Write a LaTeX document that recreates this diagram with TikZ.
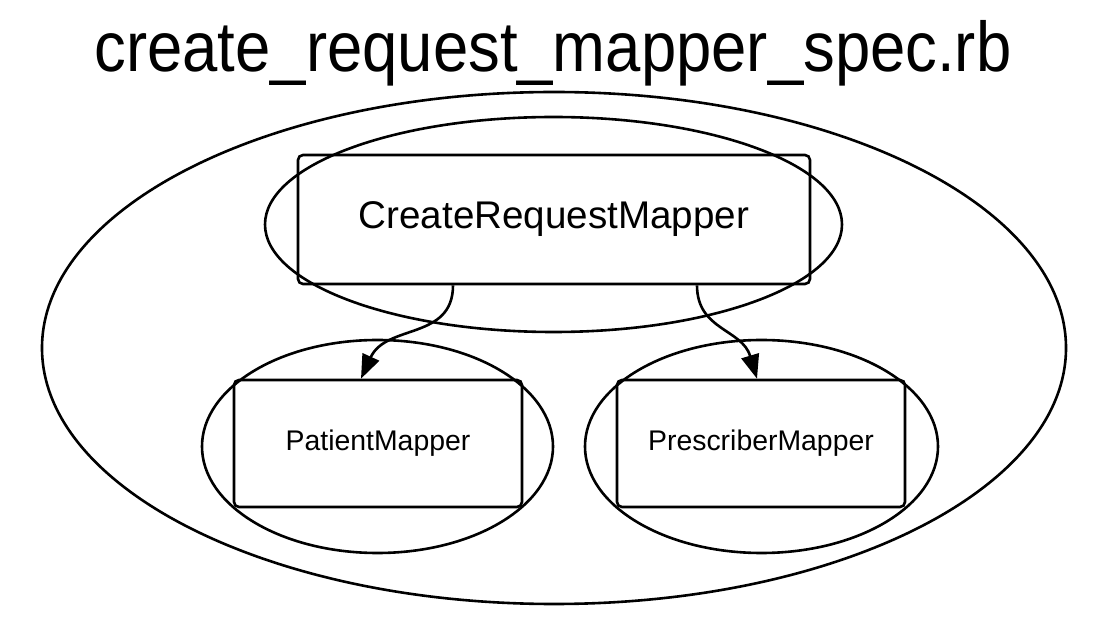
\documentclass[tikz,border=0pt]{standalone}
\usepackage{fontspec}
\setmainfont{Liberation Sans}
\newfontfamily\titlefont[FakeStretch=0.9]{Liberation Sans}
\usetikzlibrary{shapes.geometric,arrows.meta}
\tikzset{
  grp/.style={draw, ellipse, line width=2.6pt, inner sep=0pt},
  mapper/.style={draw, rectangle, rounded corners=5pt, line width=2.6pt, inner sep=0pt},
  dep/.style={line width=2.6pt, -{Triangle[length=24pt,width=18pt]}}
}

\begin{document}
\begin{tikzpicture}[x=1pt,y=1pt]
\useasboundingbox (0,0) rectangle (1114,624);

\node[anchor=base, font=\titlefont\fontsize{70.5}{76}\selectfont] (title) at (553,552) {create\_request\_mapper\_spec.rb};

% groups
\node[grp, minimum width=1024pt, minimum height=512pt] (spec) at (554,276) {};
\node[grp, minimum width=577pt, minimum height=215pt] (crmgrp) at (553.5,399.5) {};
\node[grp, minimum width=351pt, minimum height=213pt] (pmgrp) at (377.5,177.5) {};
\node[grp, minimum width=353pt, minimum height=213pt] (prmgrp) at (761.5,177.5) {};

% mappers
\node[mapper, minimum width=512pt, minimum height=129pt, font=\fontsize{38.6}{44}\selectfont] (crm) at (554,404.5) {CreateRequestMapper};
\node[mapper, minimum width=288pt, minimum height=127pt, font=\fontsize{28.4}{32}\selectfont] (pm) at (378,180.5) {PatientMapper};
\node[mapper, minimum width=288pt, minimum height=127pt, font=\fontsize{28.4}{32}\selectfont] (prm) at (761,180.5) {PrescriberMapper};

\draw[dep] ([xshift=-101pt]crm.south) .. controls +(0,-55) and +(25,55) .. ([xshift=-17pt]pm.north);
\draw[dep] ([xshift=143pt]crm.south) .. controls +(0,-45) and +(-15,50) .. ([xshift=-4pt]prm.north);

\end{tikzpicture}
\end{document}
